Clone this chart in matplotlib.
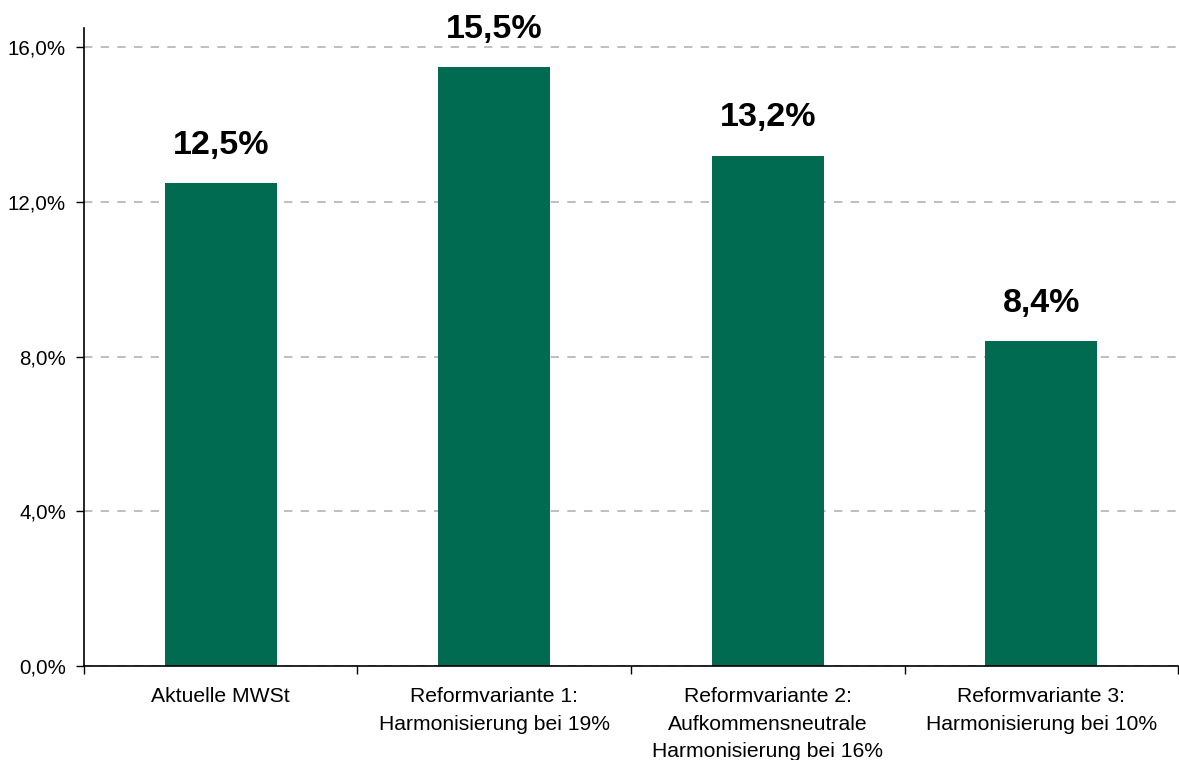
import matplotlib.pyplot as plt
import numpy as np

plt.rcParams['font.family'] = ['Liberation Sans', 'DejaVu Sans']

# Daten
kategorien = ['Aktuelle MWSt',
              'Reformvariante 1:\nHarmonisierung bei 19%',
              'Reformvariante 2:\nAufkommensneutrale\nHarmonisierung bei 16%',
              'Reformvariante 3:\nHarmonisierung bei 10%']
werte = [12.5, 15.5, 13.2, 8.4]
y_ticks = [0, 4, 8, 12, 16]

gruen = '#006B51'

fig = plt.figure(figsize=(11.79, 7.6), dpi=100)
ax = fig.add_axes([0.0712, 0.1237, 0.928, 0.8393])

x = np.arange(len(kategorien))
ax.bar(x, werte, width=0.41, color=gruen, zorder=2)

for xi, w in zip(x, werte):
    ax.annotate(('%.1f%%' % w).replace('.', ','), (xi, w), xytext=(0, 16),
                textcoords='offset points', ha='center', va='bottom',
                fontsize=24.5, fontweight='bold')

ax.set_xlim(-0.5, len(kategorien) - 0.5)
ax.set_ylim(0, 16.5)
ax.set_yticks(y_ticks)
ax.set_yticklabels([('%.1f%%' % t).replace('.', ',') for t in y_ticks], fontsize=14.8)

# Kategorie-Trennstriche unten, Beschriftung mittig
ax.set_xticks(np.arange(len(kategorien) + 1) - 0.5)
ax.set_xticklabels([])
ax.set_xticks(x, minor=True)
ax.set_xticklabels(kategorien, minor=True, fontsize=15.2, linespacing=1.58, va='top')
ax.tick_params(axis='x', which='minor', length=0, pad=15)
ax.tick_params(axis='x', which='major', length=6, width=1, direction='out')
ax.tick_params(axis='y', length=6, width=1, pad=7)

ax.yaxis.grid(True, linestyle=(0, (5, 5)), color='#b3b3b3', linewidth=1.2, zorder=0)
ax.set_axisbelow(True)
for s in ['top', 'right']:
    ax.spines[s].set_visible(False)
ax.spines['left'].set_linewidth(1.2)
ax.spines['bottom'].set_linewidth(1.2)

fig.savefig('out.png', dpi=100)
